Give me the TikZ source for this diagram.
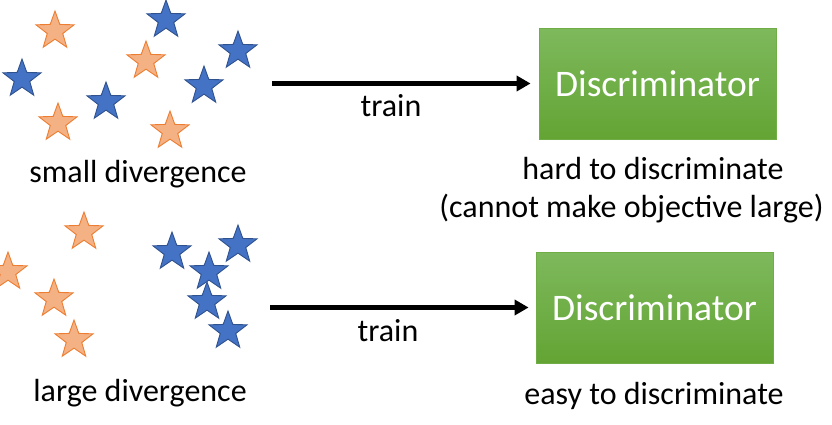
\documentclass[tikz,border=0pt]{standalone}
\usepackage{fontspec}
\setmainfont{Carlito}
\usetikzlibrary{shapes.geometric,arrows.meta}
\definecolor{orangefill}{HTML}{F4B183}
\definecolor{orangeline}{HTML}{ED7D31}
\definecolor{bluefill}{HTML}{4472C4}
\definecolor{blueline}{HTML}{2F528F}
\definecolor{greentop}{RGB}{126,185,92}
\definecolor{greenbot}{RGB}{99,164,52}
\definecolor{greenline}{RGB}{112,173,71}
\tikzset{
  starbase/.style={star, star points=5, star point ratio=2.45, minimum size=40pt, inner sep=0pt, line width=0.9pt},
  ostar/.style={starbase, fill=orangefill, draw=orangeline},
  bstar/.style={starbase, fill=bluefill, draw=blueline},
  discbox/.style={rectangle, minimum width=237pt, minimum height=111pt, top color=greentop, bottom color=greenbot, draw=greenline, line width=0.8pt, text=white, font=\fontsize{37.5}{42}\selectfont},
  label/.style={anchor=base, font=\fontsize{32}{36}\selectfont},
  trainarrow/.style={line width=5pt, -{Triangle[length=14pt,width=15pt]}}
}
\begin{document}
\begin{tikzpicture}[x=1pt,y=-1pt]
\useasboundingbox (0,0) rectangle (832,424);

% upper sample: two overlapping distributions
\node[ostar] (o1) at (55,31) {};
\node[ostar] (o2) at (146,61) {};
\node[ostar] (o3) at (58,123) {};
\node[ostar] (o4) at (170,131) {};
\node[bstar] (b1) at (166,20) {};
\node[bstar] (b2) at (22,79) {};
\node[bstar] (b3) at (106,102) {};
\node[bstar] (b4) at (204,86) {};
\node[bstar] (b5) at (238,51) {};

% lower sample: two separated distributions
\node[ostar] (o5) at (84,232) {};
\node[ostar] (o6) at (8,272) {};
\node[ostar] (o7) at (54,299) {};
\node[ostar] (o8) at (74,340) {};
\node[bstar] (b6) at (172,252) {};
\node[bstar] (b7) at (238,245) {};
\node[bstar] (b8) at (209,272) {};
\node[bstar] (b9) at (207,302) {};
\node[bstar] (b10) at (228,331) {};

% discriminators
\node[discbox] (d1) at (657.5,83.5) {Discriminator};
\node[discbox] (d2) at (654.5,307.5) {Discriminator};

% training arrows
\coordinate (s1) at (272,83.5);
\coordinate (s2) at (270,307.5);
\draw[trainarrow, shorten >=8pt] (s1) -- (d1.west);
\draw[trainarrow, shorten >=7pt] (s2) -- (d2.west);

% labels
\node[label] (t1) at (391,116) {train};
\node[label] (t2) at (388,341) {train};
\node[label] (l1) at (138,182) {small divergence};
\node[label] (l2) at (140,401) {large divergence};
\node[label] (h1) at (653,179) {hard to discriminate};
\node[label] (h2) at (631.5,217) {(cannot make objective large)};
\node[label] (e1) at (654,404) {easy to discriminate};
\end{tikzpicture}
\end{document}
